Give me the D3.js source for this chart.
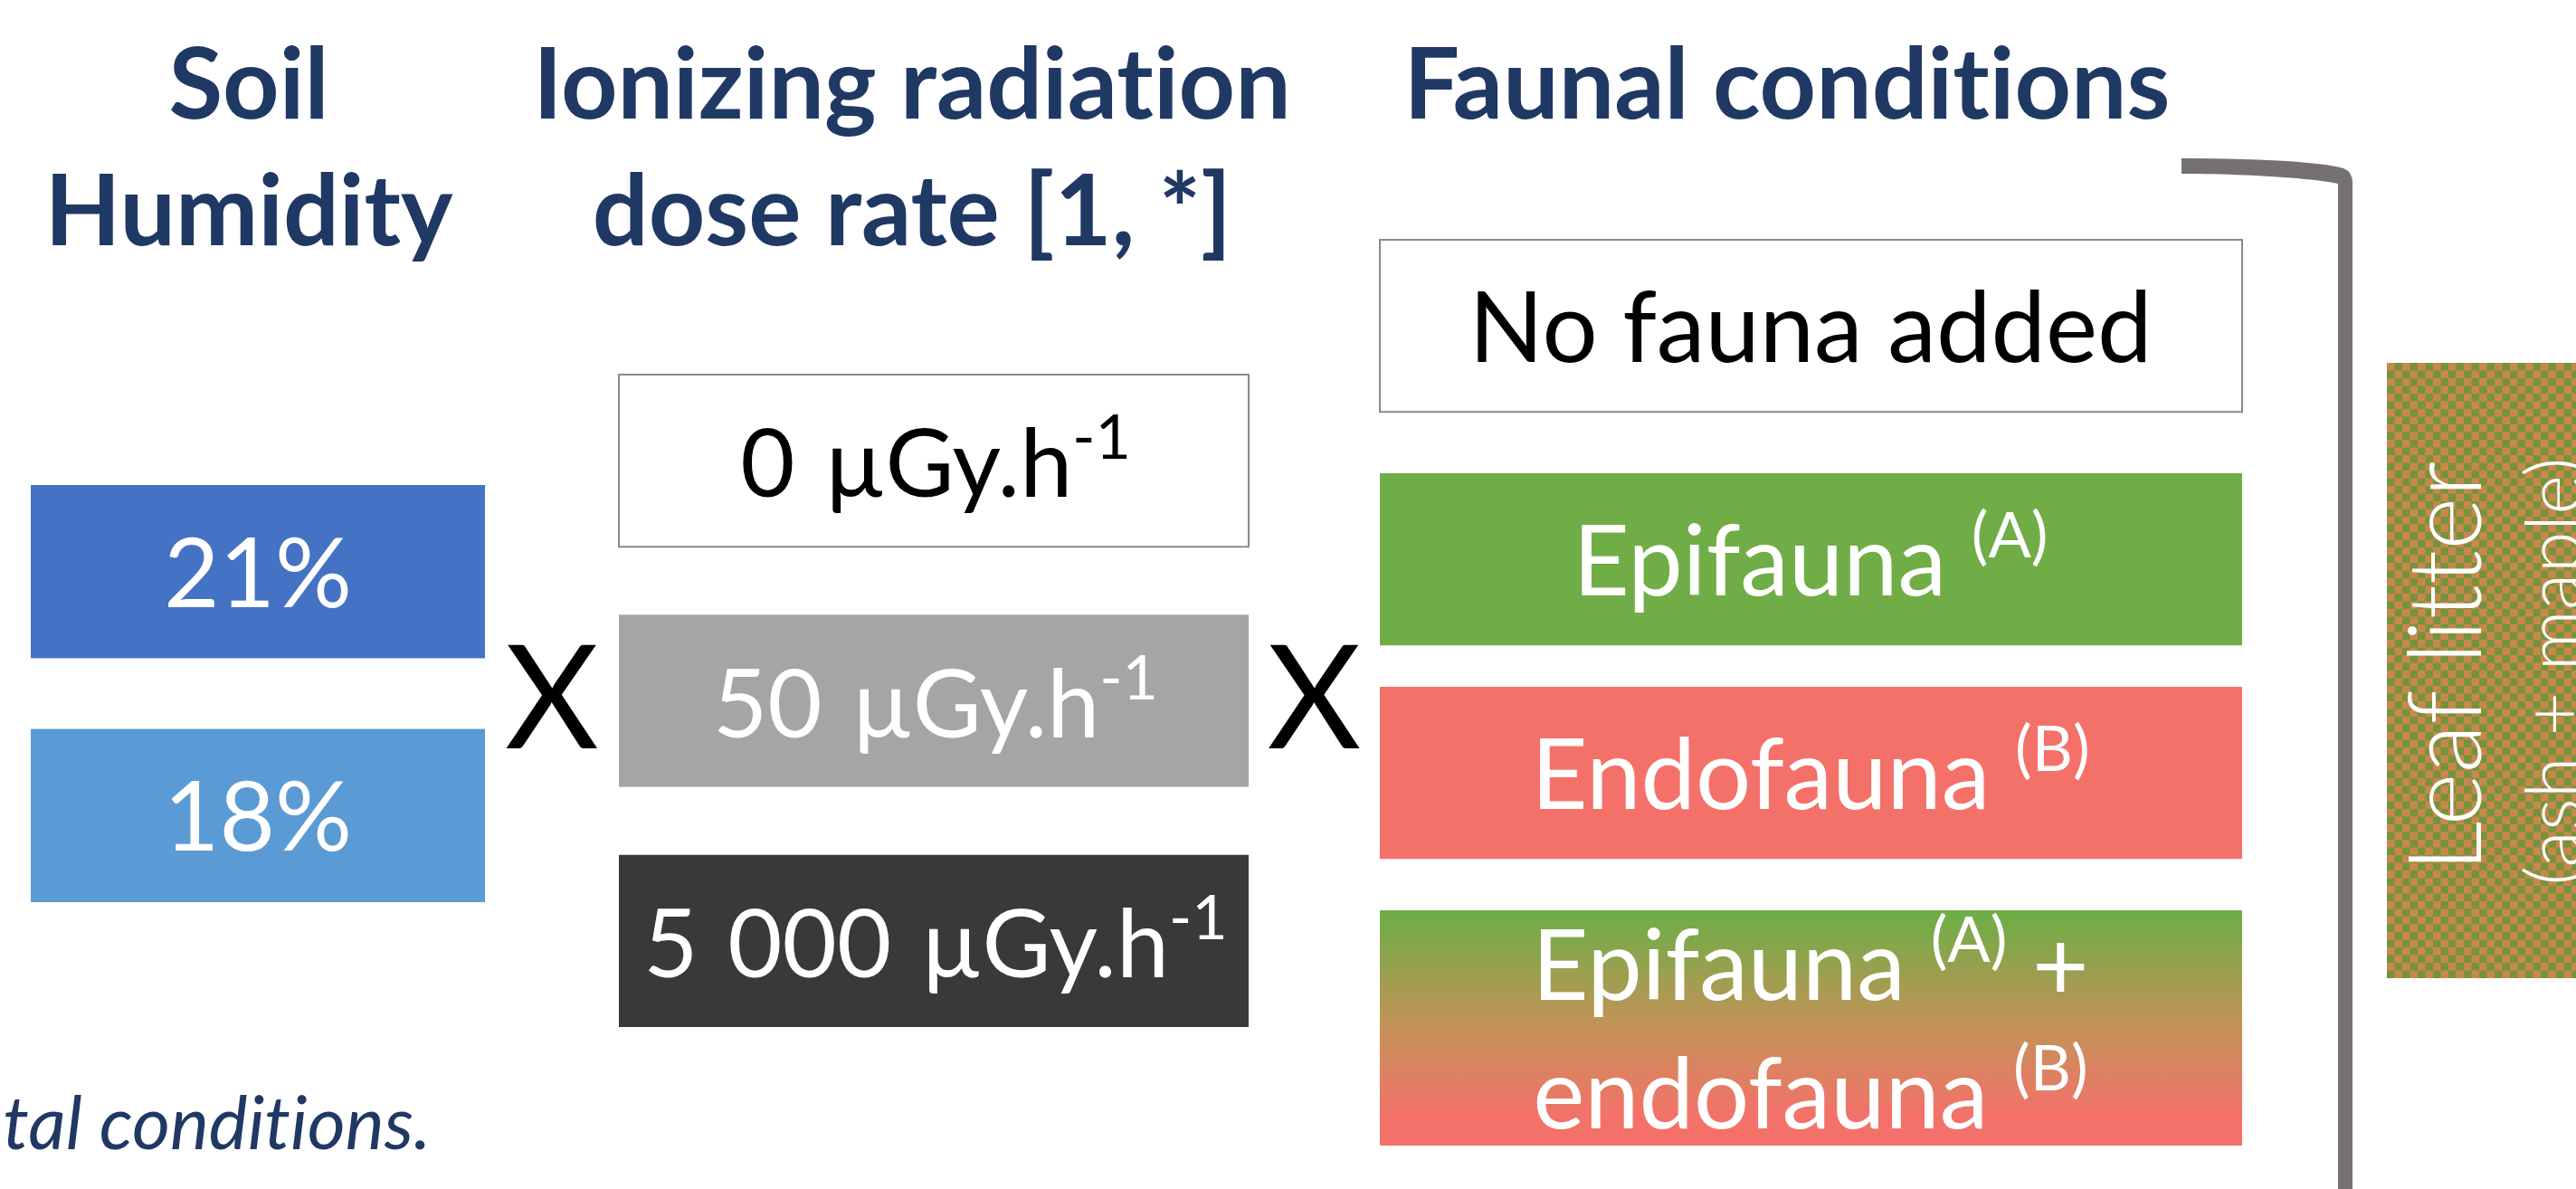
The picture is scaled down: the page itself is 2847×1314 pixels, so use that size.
<!DOCTYPE html>
<html>
<head>
<meta charset="utf-8">
<script src="https://cdn.jsdelivr.net/npm/d3@7"></script>
<style>
  body { margin: 0; background: #fff; overflow: hidden; }
  svg { display: block; font-family: Lato, "Open Sans", sans-serif; font-variant-ligatures: none; }
</style>
</head>
<body>
<svg id="chart"></svg>
<script>
var W = 2847, H = 1314;

// column headings (two lines each)
var soilTitle = ["Soil", "Humidity"];
var doseTitle = ["Ionizing radiation", "dose rate [1, *]"];
var faunaTitle = ["Faunal conditions"];

// factor levels
var humidity = ["21%", "18%"];
var humidityColors = ["#4472c4", "#5b9bd5"];

var doseRates = ["0", "50", "5 000"];
var doseUnit = "µGy.h";
var doseFill = ["#ffffff", "#a5a5a5", "#3a3838"];
var doseText = ["#000000", "#ffffff", "#ffffff"];

var fauna = [
  [["No fauna added", null]],
  [["Epifauna ", "(A)"]],
  [["Endofauna ", "(B)"]],
  [["Epifauna ", "(A)", " +"], ["endofauna ", "(B)"]]
];
var faunaFill = ["#ffffff", "#70ad47", "#f4716a", "url(#mix)"];
var faunaText = ["#000000", "#ffffff", "#ffffff", "#ffffff"];

var litterLabel = ["Leaf litter", "(ash + maple)"];
var caption = "experimental conditions.";

var navy = "#203864";

var svg = d3.select("#chart").attr("width", W).attr("height", H);
svg.append("rect").attr("width", W).attr("height", H).attr("fill", "#fff");

var defs = svg.append("defs");
var grad = defs.append("linearGradient").attr("id", "mix")
  .attr("x1", 0).attr("y1", 0).attr("x2", 0).attr("y2", 1);
grad.append("stop").attr("offset", "3%").attr("stop-color", "#70ad47");
grad.append("stop").attr("offset", "50%").attr("stop-color", "#c49258");
grad.append("stop").attr("offset", "88%").attr("stop-color", "#f4716a");

var pat = defs.append("pattern").attr("id", "checker")
  .attr("patternUnits", "userSpaceOnUse").attr("width", 17).attr("height", 17)
  .attr("x", 2638).attr("y", 401);
pat.append("rect").attr("width", 17).attr("height", 17).attr("fill", "#76933c");
pat.append("rect").attr("width", 8.5).attr("height", 8.5).attr("fill", "#c8884c");
pat.append("rect").attr("x", 8.5).attr("y", 8.5).attr("width", 8.5).attr("height", 8.5).attr("fill", "#c8884c");

// headings
function heading(lines, cx) {
  svg.append("g").selectAll("text").data(lines).join("text")
    .attr("x", cx)
    .attr("y", function(d, i) { return 131 + i * 140; })
    .attr("text-anchor", "middle")
    .attr("font-weight", 700)
    .attr("font-size", 109)
    .attr("fill", navy)
    .text(function(d) { return d; });
}
heading(soilTitle, 275);
heading(doseTitle, 1008);
heading(faunaTitle, 1975);

// soil humidity column
var yHum = d3.scaleBand().domain(humidity).range([536, 997]).paddingInner(0.29);
var hum = svg.append("g").selectAll("g").data(humidity).join("g");
hum.append("rect")
  .attr("x", 34).attr("width", 502)
  .attr("y", function(d) { return yHum(d); })
  .attr("height", yHum.bandwidth())
  .attr("fill", function(d, i) { return humidityColors[i]; });
hum.append("text")
  .attr("x", 285)
  .attr("y", function(d) { return yHum(d) + yHum.bandwidth() / 2 + 39; })
  .attr("text-anchor", "middle").attr("font-size", 106).attr("fill", "#fff")
  .text(function(d) { return d; });

// dose rate column
var yDose = d3.scaleBand().domain(doseRates).range([414, 1135]).paddingInner(0.283);
var dose = svg.append("g").selectAll("g").data(doseRates).join("g");
dose.append("rect")
  .attr("x", 684).attr("width", 696)
  .attr("y", function(d) { return yDose(d); })
  .attr("height", yDose.bandwidth())
  .attr("fill", function(d, i) { return doseFill[i]; })
  .attr("stroke", function(d, i) { return i === 0 ? "#8a8a8a" : "none"; })
  .attr("stroke-width", 2);
var doseLbl = dose.append("text")
  .attr("x", 1034)
  .attr("y", function(d) { return yDose(d) + yDose.bandwidth() / 2 + 40; })
  .attr("text-anchor", "middle").attr("font-size", 104)
  .attr("word-spacing", 6)
  .attr("fill", function(d, i) { return doseText[i]; });
doseLbl.append("tspan").text(function(d) { return d + " " + doseUnit; });
doseLbl.append("tspan").attr("dy", -42).attr("font-size", 68).text("-1");

// multiplication signs, centred in the gaps between columns
svg.append("g").selectAll("text").data([[536, 684], [1380, 1525]]).join("text")
  .attr("x", function(d) { return (d[0] + d[1]) / 2; }).attr("y", 827)
  .attr("text-anchor", "middle").attr("font-size", 160).attr("fill", "#000")
  .text("X");

// fauna column
var yFauna = d3.scaleLinear().domain([0, 1, 2, 3, 4]).range([265, 523, 759, 1006, 1253]);
var faunaH = function(d) { return d.length > 1 ? 1.053 : 0.77; };
var boxTop = function(i) { return yFauna(i); };
var boxH = function(d, i) { return (yFauna(4) - yFauna(3)) * faunaH(d); };
var fg = svg.append("g").selectAll("g").data(fauna).join("g");
fg.append("rect")
  .attr("x", 1525).attr("width", 953)
  .attr("y", function(d, i) { return boxTop(i); })
  .attr("height", boxH)
  .attr("fill", function(d, i) { return faunaFill[i]; })
  .attr("stroke", function(d, i) { return i === 0 ? "#8a8a8a" : "none"; })
  .attr("stroke-width", 2);
fg.each(function(d, i) {
  var g = d3.select(this);
  var mid = boxTop(i) + boxH(d, i) / 2;
  d.forEach(function(line, j) {
    var y = mid + 40 + (j - (d.length - 1) / 2) * 142;
    var t = g.append("text").attr("x", 2001).attr("y", y)
      .attr("text-anchor", "middle").attr("font-size", 108)
      .attr("fill", faunaText[i]);
    t.append("tspan").text(line[0]);
    if (line[1]) {
      t.append("tspan").attr("dy", -42).attr("font-size", 70).text(line[1]);
    }
    if (line[2]) {
      t.append("tspan").attr("dy", 42).text(line[2]);
    }
  });
});

// bracket
svg.append("path")
  .attr("d", "M2411,175 C2480,175 2565,178 2590,186 Q2600,190 2600,202 L2600," + H +
    " L2584," + H + " L2584,203 C2560,197 2480,192 2411,192 Z")
  .attr("fill", "#767171");

// leaf litter block
svg.append("rect").attr("x", 2638).attr("y", 401).attr("width", 230).attr("height", 680)
  .attr("fill", "url(#checker)");
svg.append("text")
  .attr("transform", "translate(2742,737) rotate(-90)")
  .attr("text-anchor", "middle").attr("font-size", 112).attr("font-weight", 300)
  .attr("fill", "#fff").text(litterLabel[0]);
svg.append("text")
  .attr("transform", "translate(2852,742) rotate(-90)")
  .attr("text-anchor", "middle").attr("font-size", 84).attr("font-weight", 300)
  .attr("fill", "#fff").text(litterLabel[1]);

// caption, cut by the left edge as in the source
svg.append("text")
  .attr("x", 476).attr("y", 1270)
  .attr("text-anchor", "end").attr("font-style", "italic").attr("font-size", 81)
  .attr("fill", navy).text(caption);
</script>
</body>
</html>
